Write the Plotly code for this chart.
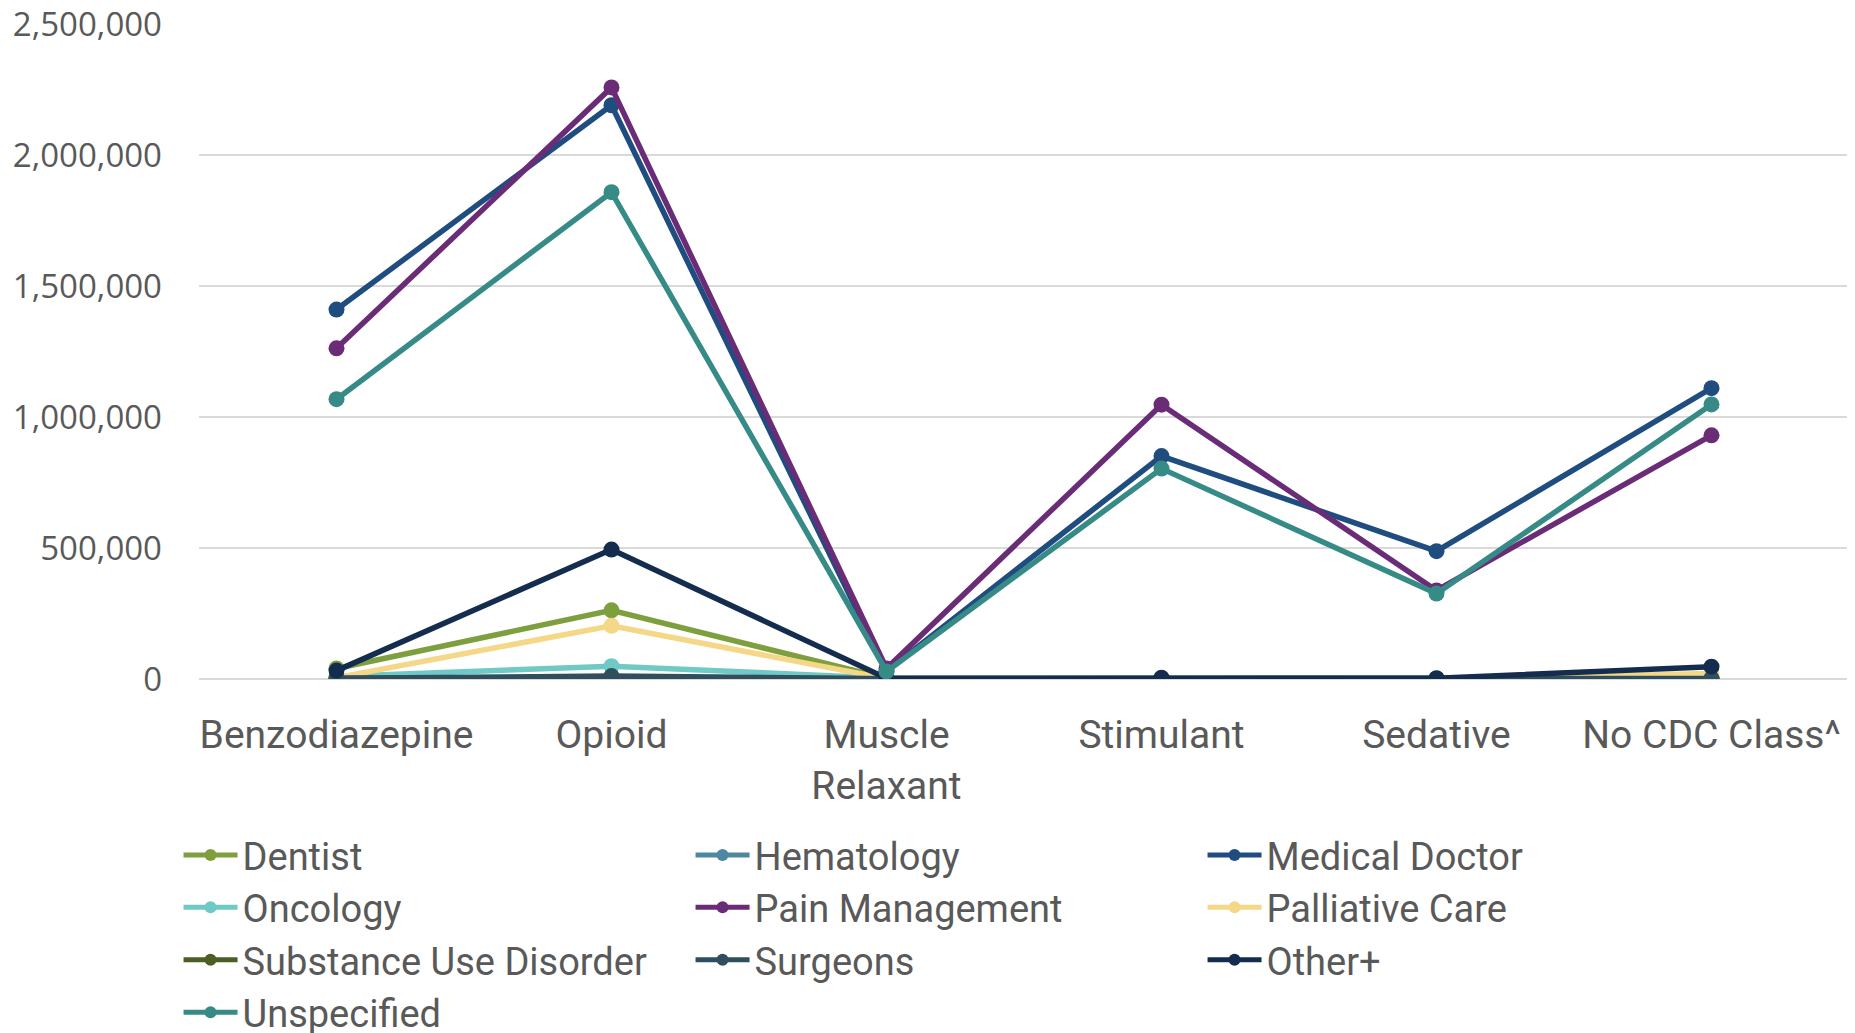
import plotly.graph_objects as go

categories = ["Benzodiazepine", "Opioid", "Muscle<br>Relaxant", "Stimulant", "Sedative", "No CDC Class^"]

series_names = ["Dentist", "Hematology", "Medical Doctor", "Oncology", "Pain Management",
                "Palliative Care", "Substance Use Disorder", "Surgeons", "Other+", "Unspecified"]

dentist = [40000, 262000, 2000, 1000, 500, 3000]
hematology = [2000, 8000, 500, 500, 300, 1000]
medical_doctor = [1410000, 2190000, 30000, 851000, 488000, 1110000]
oncology = [10000, 49000, 3000, 1000, 500, 2000]
pain_management = [1262000, 2258000, 40000, 1047000, 338000, 930000]
palliative_care = [5000, 203000, 1500, 800, 500, 21000]
substance_use = [3000, 6000, 500, 500, 300, 1000]
surgeons = [3000, 11000, 1000, 1000, 500, 2000]
other_plus = [32000, 494000, 3000, 5000, 3000, 47000]
unspecified = [1068000, 1858000, 29000, 803000, 326000, 1048000]

values = [dentist, hematology, medical_doctor, oncology, pain_management,
          palliative_care, substance_use, surgeons, other_plus, unspecified]

colors = ["#7E9F3E", "#4E87A1", "#204D80", "#6FC9C4", "#6B2C77",
          "#F5D788", "#4B5F24", "#2F4F5F", "#142D4E", "#368B87"]

fig = go.Figure()
for name, vals, col in zip(series_names, values, colors):
    fig.add_trace(go.Scatter(
        x=categories, y=vals, name=name, mode="lines+markers",
        line=dict(color=col, width=5.5),
        marker=dict(color=col, size=16),
    ))

fig.update_layout(
    width=1847, height=1025,
    paper_bgcolor="white", plot_bgcolor="white",
    margin=dict(l=191, r=6, t=16, b=354, autoexpand=False),
    font=dict(family="Open Sans, sans-serif", color="#595959", size=30),
    showlegend=True,
    legend=dict(
        orientation="h", x=-0.0124, xanchor="left", y=-0.221, yanchor="top",
        entrywidth=443, entrywidthmode="pixels", itemwidth=54,
        font=dict(family="Roboto, sans-serif", size=38, color="#595959"),
        itemsizing="constant", tracegroupgap=0,
    ),
    xaxis=dict(
        type="category", range=[-0.5, 5.5],
        showgrid=False, showline=False, zeroline=False,
        tickfont=dict(family="Roboto, sans-serif", size=39, color="#595959"),
        ticks="", ticklabelstandoff=29, ticklabeloverflow="allow",
    ),
    yaxis=dict(
        range=[0, 2500000], dtick=500000, tickformat=",",
        showgrid=True, gridcolor="#D9D9D9", gridwidth=2,
        zeroline=True, zerolinecolor="#D9D9D9", zerolinewidth=2,
        showline=False, ticks="", ticklabelstandoff=36,
        ticklabeloverflow="allow",
        tickfont=dict(size=33, color="#595959"),
    ),
)

fig.write_html("out.html")
